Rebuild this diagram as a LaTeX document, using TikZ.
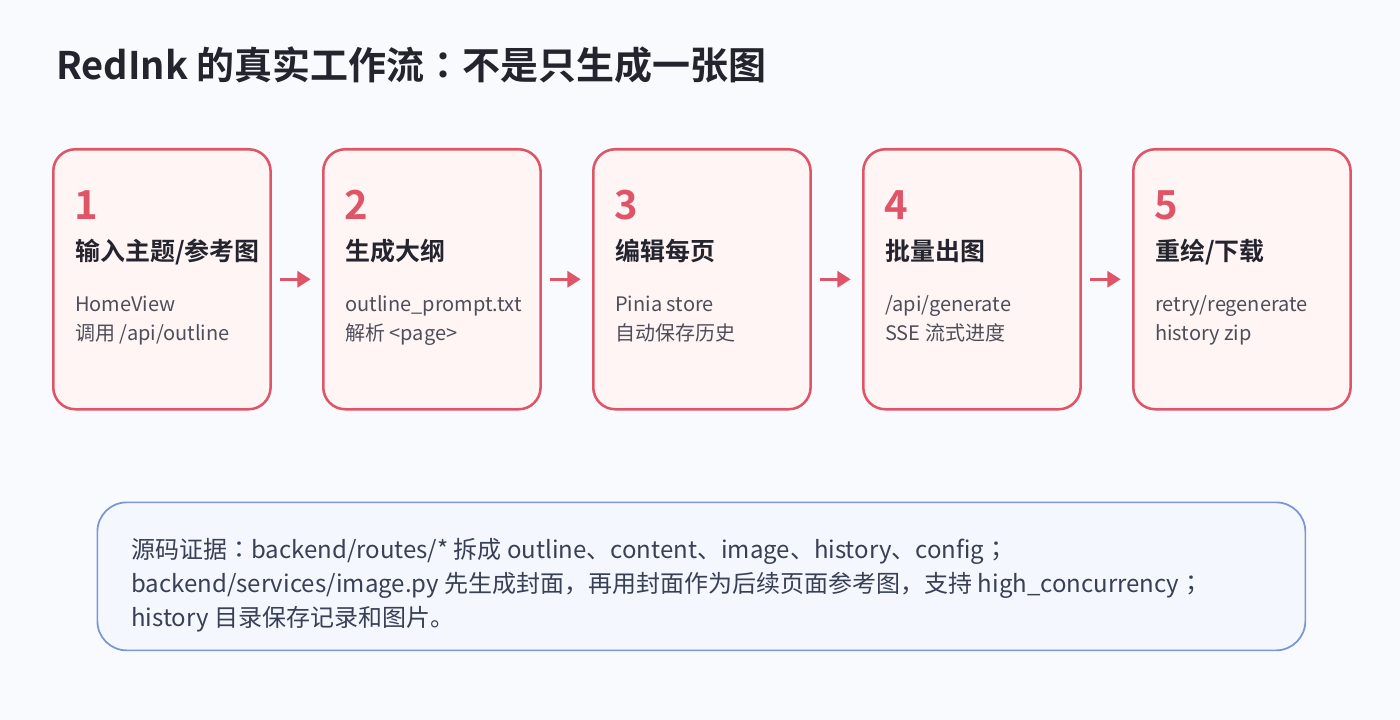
\documentclass[tikz,border=0pt]{standalone}
\usepackage{fontspec}
\setmainfont{Noto Sans CJK SC}[BoldFont={Noto Sans CJK SC Bold}]
\newfontfamily\jpfont{Noto Sans CJK JP}[BoldFont={Noto Sans CJK JP Bold}]
\newcommand{\jcolon}{{\jpfont ：}}
\newcommand{\jsemi}{{\jpfont ；}}
\usetikzlibrary{arrows.meta}
\definecolor{bg}{HTML}{F9FAFD}
\definecolor{red}{HTML}{E05468}
\definecolor{boxfill}{HTML}{FFF5F4}
\definecolor{titlec}{HTML}{24242E}
\definecolor{subc}{HTML}{4E4E5A}
\definecolor{bluec}{HTML}{7B96D2}
\definecolor{bluefill}{HTML}{F4F7FD}
\definecolor{notec}{HTML}{384055}
\tikzset{
  stepbox/.style={draw=red, fill=boxfill, line width=1.9pt, rounded corners=16.5pt,
    minimum width=163pt, minimum height=195pt, inner sep=0pt, anchor=north west},
  num/.style={anchor=base west, inner sep=0pt, text=red, font=\bfseries\fontsize{30pt}{30pt}\selectfont},
  stitle/.style={anchor=base west, inner sep=0pt, text=titlec, font=\bfseries\fontsize{18.7pt}{18.7pt}\selectfont},
  sub/.style={anchor=base west, inner sep=0pt, text=subc, font=\fontsize{15pt}{15pt}\selectfont},
  flow/.style={draw=red, line width=2.4pt, -{Triangle[length=10pt,width=12pt]}, shorten <=6pt, shorten >=8.5pt},
  note/.style={anchor=base west, inner sep=0pt, text=notec, font=\fontsize{18pt}{18pt}\selectfont}
}
\begin{document}
\begin{tikzpicture}[x=0.75pt,y=-0.75pt]
\fill[bg] (0,0) rectangle (1400,720);
\useasboundingbox (0,0) rectangle (1400,720);
\node[anchor=base west, inner sep=0pt, text=titlec, font=\bfseries\fontsize{28.5pt}{28.5pt}\selectfont] (title) at (56,80) {RedInk 的真实工作流\jcolon 不是只生成一张图};

\node[stepbox] (b1) at (52,148) {};
\node[stepbox] (b2) at (322,148) {};
\node[stepbox] (b3) at (592,148) {};
\node[stepbox] (b4) at (862,148) {};
\node[stepbox] (b5) at (1132,148) {};

\node[num] (n1) at (74,220) {1};
\node[stitle] (t1) at (75,260.5) {输入主题/参考图};
\node[sub] (s1a) at (75,312) {HomeView};
\node[sub] (s1b) at (75,340) {调用 /api/outline};

\node[num] (n2) at (344,220) {2};
\node[stitle] (t2) at (345,260.5) {生成大纲};
\node[sub] (s2a) at (345,312) {outline\_prompt.txt};
\node[sub] (s2b) at (345,340) {解析 <page>};

\node[num] (n3) at (614,220) {3};
\node[stitle] (t3) at (615,260.5) {编辑每页};
\node[sub] (s3a) at (615,312) {Pinia store};
\node[sub] (s3b) at (615,340) {自动保存历史};

\node[num] (n4) at (884,220) {4};
\node[stitle] (t4) at (885,260.5) {批量出图};
\node[sub] (s4a) at (885,312) {/api/generate};
\node[sub] (s4b) at (885,340) {SSE 流式进度};

\node[num] (n5) at (1154,220) {5};
\node[stitle] (t5) at (1155,260.5) {重绘/下载};
\node[sub] (s5a) at (1155,312) {retry/regenerate};
\node[sub] (s5b) at (1155,340) {history zip};

\draw[flow] (b1.east) -- (b2.west);
\draw[flow] (b2.east) -- (b3.west);
\draw[flow] (b3.east) -- (b4.west);
\draw[flow] (b4.east) -- (b5.west);

\node[draw=bluec, fill=bluefill, line width=1.3pt, rounded corners=22pt, minimum width=906pt, minimum height=111pt, anchor=north west, inner sep=0pt] (notebox) at (96.5,501.5) {};
\node[note] (l1) at (131,558) {源码证据\jcolon backend/routes/* 拆成 outline、content、image、history、config\jsemi};
\node[note] (l2) at (131,592) {backend/services/image.py 先生成封面，再用封面作为后续页面参考图，支持 high\_concurrency\jsemi};
\node[note] (l3) at (131,626) {history 目录保存记录和图片。};
\end{tikzpicture}
\end{document}
